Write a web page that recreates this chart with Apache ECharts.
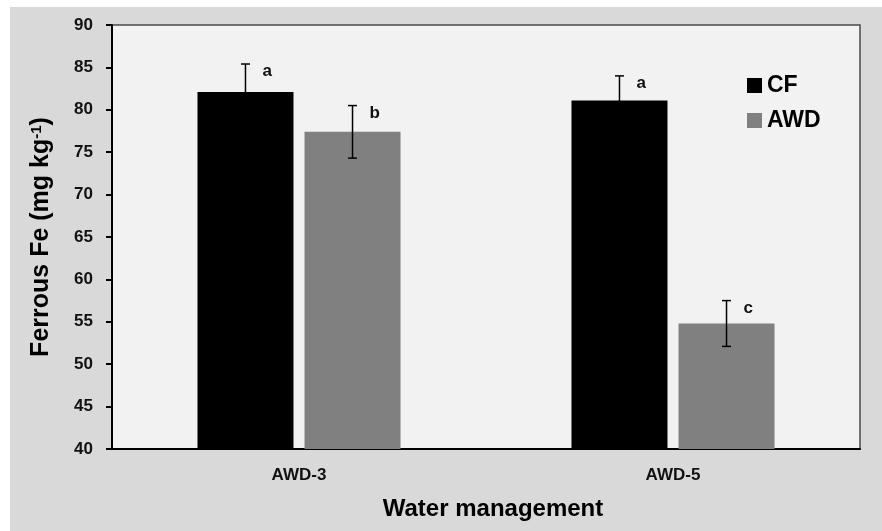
<!DOCTYPE html>
<html>
<head>
<meta charset="utf-8">
<script src="https://cdn.jsdelivr.net/npm/echarts@6/dist/echarts.min.js"></script>
<style>
  html, body { margin: 0; padding: 0; background: #ffffff; }
  #chart { width: 882px; height: 531px; }
</style>
</head>
<body>
<div id="chart"></div>
<script>
// Ferrous Fe under two water-management regimes
const categories = ['AWD-3', 'AWD-5'];
const seriesNames = ['CF', 'AWD'];
const cfValues = [82.1, 81.1];
const cfErrors = [3.3, 2.9];
const cfLetters = ['a', 'a'];
const awdValues = [77.4, 54.8];
const awdErrors = [3.1, 2.7];
const awdLetters = ['b', 'c'];
const yTicks = [40, 45, 50, 55, 60, 65, 70, 75, 80, 85, 90];

const FONT = 'Liberation Sans, Arial, sans-serif';
const BAR_WIDTH = 96;
const BAR_GAP = '11.5%';

function errorSeries(name, values, errors, letters, idx) {
  return {
    name: name,
    type: 'custom',
    z: 5,
    silent: true,
    data: values.map((v, i) => [i, v, errors[i]]),
    encode: { x: 0, y: 1 },
    renderItem: function (params, api) {
      const cat = api.value(0);
      const val = api.value(1);
      const err = api.value(2);
      const letter = letters[params.dataIndex];
      const layout = api.barLayout({ barWidth: BAR_WIDTH, barGap: BAR_GAP, count: 2 });
      const base = api.coord([cat, val]);
      const cx = base[0] + layout[idx].offsetCenter;
      const yTop = api.coord([cat, val + err])[1];
      const yBot = api.coord([cat, val - err])[1];
      const capHalf = 4.5;
      const lineStyle = { stroke: '#000', lineWidth: 1.5 };
      return {
        type: 'group',
        children: [
          { type: 'line', shape: { x1: cx, y1: yTop, x2: cx, y2: yBot }, style: lineStyle },
          { type: 'line', shape: { x1: cx - capHalf, y1: yTop, x2: cx + capHalf, y2: yTop }, style: lineStyle },
          { type: 'line', shape: { x1: cx - capHalf, y1: yBot, x2: cx + capHalf, y2: yBot }, style: lineStyle },
          {
            type: 'text',
            style: {
              x: cx + 17, y: yTop - 1,
              text: letter,
              fill: '#111',
              font: 'bold 17px ' + FONT,
              textAlign: 'left',
              textVerticalAlign: 'top'
            }
          }
        ]
      };
    }
  };
}

const chart = echarts.init(document.getElementById('chart'), null, { renderer: 'canvas' });

chart.setOption({
  backgroundColor: '#ffffff',
  animation: false,
  textStyle: { fontFamily: FONT },
  graphic: [{
    type: 'rect',
    z: -100,
    silent: true,
    shape: { x: 10, y: 7, width: 872, height: 524 },
    style: { fill: '#d9d9d9' }
  }],
  grid: {
    left: 112, top: 25, right: 22, bottom: 82,
    show: true,
    backgroundColor: '#f2f2f2',
    borderColor: '#4a4a4a',
    borderWidth: 1.5
  },
  legend: {
    data: seriesNames,
    orient: 'vertical',
    left: 742,
    top: 69,
    icon: 'rect',
    itemWidth: 15,
    itemHeight: 15,
    itemGap: 12,
    textStyle: { fontFamily: FONT, fontSize: 23, fontWeight: 'bold', color: '#000', lineHeight: 23 }
  },
  xAxis: {
    type: 'category',
    data: categories,
    name: 'Water management',
    nameLocation: 'middle',
    nameGap: 48,
    nameTextStyle: { fontFamily: FONT, fontSize: 24, fontWeight: 'bold', color: '#000', padding: [0, 0, 0, 14] },
    axisLine: { lineStyle: { color: '#000', width: 2 } },
    axisTick: { show: false },
    axisLabel: { margin: 18, fontFamily: FONT, fontSize: 17, fontWeight: 'bold', color: '#111' }
  },
  yAxis: {
    type: 'value',
    min: 40, max: 90, interval: 5,
    name: 'Ferrous Fe (mg kg{sup|-1})',
    nameLocation: 'middle',
    nameGap: 58,
    nameTextStyle: {
      fontFamily: FONT, fontSize: 25, fontWeight: 'bold', color: '#000',
      rich: { sup: { fontFamily: FONT, fontSize: 15, fontWeight: 'bold', color: '#000', verticalAlign: 'top' } }
    },
    axisLine: { show: true, lineStyle: { color: '#000', width: 2 } },
    axisTick: { show: true, length: 6, lineStyle: { color: '#000', width: 2 } },
    splitLine: { show: false },
    axisLabel: {
      margin: 19, fontFamily: FONT, fontSize: 17, fontWeight: 'bold', color: '#111',
      formatter: v => (yTicks.indexOf(v) >= 0 ? String(v) : '')
    }
  },
  series: [
    {
      name: 'CF', type: 'bar', data: cfValues,
      barWidth: BAR_WIDTH, barGap: BAR_GAP,
      itemStyle: { color: '#000000' }
    },
    {
      name: 'AWD', type: 'bar', data: awdValues,
      barWidth: BAR_WIDTH, barGap: BAR_GAP,
      itemStyle: { color: '#808080' }
    },
    errorSeries('CF error', cfValues, cfErrors, cfLetters, 0),
    errorSeries('AWD error', awdValues, awdErrors, awdLetters, 1)
  ]
});
</script>
</body>
</html>
